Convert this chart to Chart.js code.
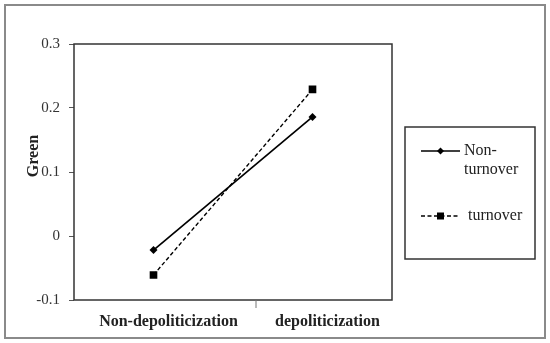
<!DOCTYPE html>
<html>
<head>
<meta charset="utf-8">
<script src="https://cdn.jsdelivr.net/npm/chart.js@4"></script>
<style>
  html, body { margin: 0; padding: 0; background: #fff; }
  #wrap { width: 550px; height: 343px; }
</style>
</head>
<body>
<div id="wrap"><canvas id="chart" width="550" height="343"></canvas></div>
<script>
  const categories = ['Non-depoliticization', 'depoliticization'];
  const seriesNames = [['Non-', 'turnover'], ['turnover']];
  const nonTurnover = [-0.022, 0.186];
  const turnover = [-0.061, 0.229];
  const yTicks = [-0.1, 0, 0.1, 0.2, 0.3];
  const yTitle = 'Green';

  const SERIF = '"Liberation Serif", "Times New Roman", serif';
  const INK = '#222';

  // page frame, plot box, y title, odd middle tick, boxed legend
  const decor = {
    id: 'decor',
    beforeDraw(chart) {
      const ctx = chart.ctx;
      ctx.save();
      ctx.fillStyle = '#fff';
      ctx.fillRect(0, 0, chart.width, chart.height);
      ctx.strokeStyle = '#8a8a8a';
      ctx.lineWidth = 2;
      ctx.strokeRect(5, 5, chart.width - 10, chart.height - 10);
      ctx.restore();
    },
    afterDraw(chart) {
      const ctx = chart.ctx;
      const a = chart.chartArea;
      const x = chart.scales.x;
      ctx.save();
      ctx.strokeStyle = '#333';
      ctx.lineWidth = 1.5;
      ctx.strokeRect(a.left, a.top, a.right - a.left, a.bottom - a.top);

      const mid = (x.getPixelForValue(0) + x.getPixelForValue(1)) / 2 + 23;
      ctx.strokeStyle = '#777';
      ctx.lineWidth = 1;
      ctx.beginPath();
      ctx.moveTo(mid, a.bottom);
      ctx.lineTo(mid, a.bottom + 8);
      ctx.stroke();

      ctx.fillStyle = INK;
      ctx.font = 'bold 16px ' + SERIF;
      ctx.textAlign = 'center';
      ctx.textBaseline = 'middle';
      ctx.translate(34, 156);
      ctx.rotate(-Math.PI / 2);
      ctx.fillText(yTitle, 0, 0);
      ctx.restore();

      // legend box
      const lx = 405, ly = 127, lw = 130, lh = 132;
      ctx.save();
      ctx.strokeStyle = '#333';
      ctx.lineWidth = 1.5;
      ctx.strokeRect(lx, ly, lw, lh);
      const rows = [151, 216];
      chart.data.datasets.forEach((ds, i) => {
        const y = rows[i];
        ctx.strokeStyle = ds.borderColor;
        ctx.lineWidth = ds.borderWidth;
        ctx.setLineDash(ds.borderDash || []);
        ctx.beginPath();
        ctx.moveTo(421, y);
        ctx.lineTo(460, y);
        ctx.stroke();
        ctx.setLineDash([]);
        ctx.fillStyle = ds.pointBackgroundColor;
        if (ds.pointStyle === 'rect') {
          ctx.fillRect(437, y - 3.5, 7, 7);
        } else {
          ctx.beginPath();
          ctx.moveTo(440.5, y - 3.5);
          ctx.lineTo(444, y);
          ctx.lineTo(440.5, y + 3.5);
          ctx.lineTo(437, y);
          ctx.closePath();
          ctx.fill();
        }
        ctx.fillStyle = INK;
        ctx.font = '16px ' + SERIF;
        ctx.textAlign = 'left';
        ctx.textBaseline = 'middle';
        const tx = i === 0 ? 464 : 468;
        seriesNames[i].forEach((t, k) => ctx.fillText(t, tx, y + k * 19));
      });
      ctx.restore();
    }
  };

  new Chart(document.getElementById('chart'), {
    type: 'line',
    data: {
      labels: categories,
      datasets: [
        {
          label: seriesNames[0].join(''),
          data: nonTurnover,
          borderColor: '#000',
          borderWidth: 1.7,
          pointStyle: 'rectRot',
          pointRadius: 4,
          pointBackgroundColor: '#000',
          pointBorderColor: '#000',
          pointBorderWidth: 0
        },
        {
          label: seriesNames[1].join(''),
          data: turnover,
          borderColor: '#000',
          borderWidth: 1.4,
          borderDash: [4, 2.5],
          pointStyle: 'rect',
          pointRadius: 5.4,
          pointBackgroundColor: '#000',
          pointBorderColor: '#000',
          pointBorderWidth: 0
        }
      ]
    },
    options: {
      responsive: false,
      animation: false,
      layout: { padding: { top: 44, right: 158, bottom: 0, left: 0 } },
      plugins: { legend: { display: false }, tooltip: { enabled: false } },
      scales: {
        x: {
          offset: true,
          afterFit: s => { s.height = 43; },
          grid: { display: false, drawTicks: false },
          border: { display: false },
          ticks: {
            padding: 12,
            labelOffset: 15,
            color: INK,
            font: { family: SERIF, size: 16, weight: 'bold' }
          }
        },
        y: {
          min: yTicks[0],
          max: yTicks[yTicks.length - 1],
          afterFit: s => { s.width = 74; },
          afterBuildTicks: s => { s.ticks = yTicks.map(v => ({ value: v })); },
          grid: { drawOnChartArea: false, tickLength: 5, color: '#555' },
          border: { display: false },
          ticks: {
            padding: 9,
            color: '#333',
            font: { family: SERIF, size: 15 },
            callback: v => String(Number(v.toFixed(1)))
          }
        }
      }
    },
    plugins: [decor]
  });
</script>
</body>
</html>
